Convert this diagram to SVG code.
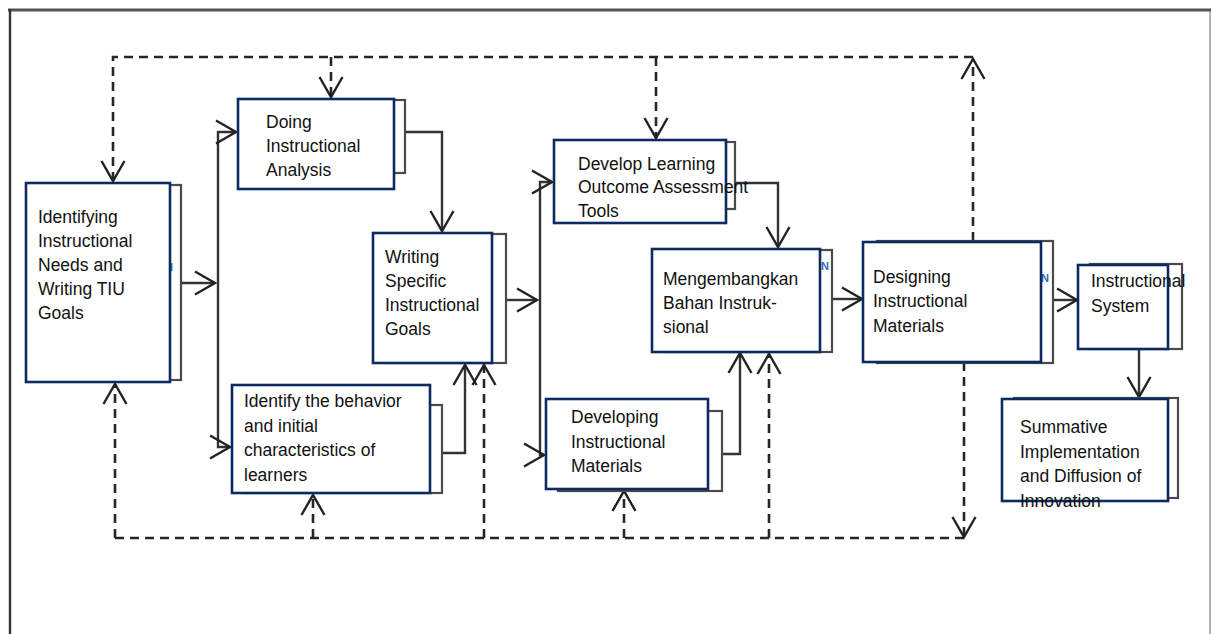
<svg xmlns="http://www.w3.org/2000/svg" width="1213" height="634" viewBox="0 0 1213 634">
<style>
.box{fill:#fff;stroke:#0d2a63;stroke-width:2.6}
.sh{fill:#fff;stroke:#4a4a4a;stroke-width:2.2}
.c{fill:none;stroke:#333;stroke-width:2.4}
.d{fill:none;stroke:#262626;stroke-width:2.6;stroke-dasharray:9 6}
.t{font-family:"Liberation Sans",Arial,sans-serif;font-size:17.5px;fill:#111}
.art{font-family:"Liberation Sans",Arial,sans-serif;font-size:11px;font-weight:bold;fill:#2f6db5}
</style>
<defs>
<marker id="ah" markerUnits="userSpaceOnUse" markerWidth="26" markerHeight="28" viewBox="-23 -14 26 28" refX="0" refY="0" orient="auto">
<path d="M-20,-11.5 L0,0 L-20,11.5" fill="none" stroke="#222" stroke-width="2.4"/>
</marker>
</defs>
<rect width="1213" height="634" fill="#fff"/>
<g id="frame">
<line x1="1210" y1="10" x2="1210" y2="634" stroke="#a0a0a0" stroke-width="1.6"/>
<line x1="8" y1="10" x2="1211" y2="10" stroke="#555" stroke-width="3"/>
<line x1="10" y1="9" x2="10" y2="634" stroke="#333" stroke-width="2.4"/>
</g>
<g id="connectors">
<path class="c" d="M181,283 H215" marker-end="url(#ah)"/>
<path class="c" d="M218,283 V132 H236" marker-end="url(#ah)"/>
<path class="c" d="M218,283 V447 H230" marker-end="url(#ah)"/>
<path class="c" d="M405,132 H442 V231" marker-end="url(#ah)"/>
<path class="c" d="M506,300 H537" marker-end="url(#ah)"/>
<path class="c" d="M540,300 V182 H552" marker-end="url(#ah)"/>
<path class="c" d="M540,300 V455 H544" marker-end="url(#ah)"/>
<path class="c" d="M735,183 H778 V247" marker-end="url(#ah)"/>
<path class="c" d="M442,453 H465 V365" marker-end="url(#ah)"/>
<path class="c" d="M722,454 H740 V353" marker-end="url(#ah)"/>
<path class="c" d="M832,299 H862" marker-end="url(#ah)"/>
<path class="c" d="M1053,300 H1077" marker-end="url(#ah)"/>
<path class="c" d="M1139,349 V397" marker-end="url(#ah)"/>
<path class="d" d="M973,57 H113 V181" marker-end="url(#ah)"/>
<path class="d" d="M331,57 V97" marker-end="url(#ah)"/>
<path class="d" d="M656,57 V138" marker-end="url(#ah)"/>
<path class="d" d="M973,241 V59" marker-end="url(#ah)"/>
<path class="d" d="M115,538 V384" marker-end="url(#ah)"/>
<path class="d" d="M115,538 H964"/>
<path class="d" d="M964,362 V537" marker-end="url(#ah)"/>
<path class="d" d="M313,538 V495" marker-end="url(#ah)"/>
<path class="d" d="M624,538 V491" marker-end="url(#ah)"/>
<path class="d" d="M484,538 V365" marker-end="url(#ah)"/>
<path class="d" d="M769,538 V354" marker-end="url(#ah)"/>
</g>
<g id="n1">
<rect class="sh" x="40" y="185" width="141" height="195"/>
<text class="art" x="170" y="271">l</text>
<rect class="box" x="26" y="183" width="144" height="199"/>
<text class="t" x="38" y="223">Identifying</text>
<text class="t" x="38" y="247">Instructional</text>
<text class="t" x="38" y="271">Needs and</text>
<text class="t" x="38" y="295">Writing TIU</text>
<text class="t" x="38" y="319">Goals</text>
</g>
<g id="n2">
<rect class="sh" x="250" y="100" width="155" height="73"/>
<rect class="box" x="238" y="99" width="156" height="90"/>
<text class="t" x="266" y="128">Doing</text>
<text class="t" x="266" y="152">Instructional</text>
<text class="t" x="266" y="176">Analysis</text>
</g>
<g id="n3">
<rect class="sh" x="385" y="234" width="121" height="129"/>
<rect class="box" x="373" y="233" width="119" height="130"/>
<text class="t" x="385" y="263">Writing</text>
<text class="t" x="385" y="287">Specific</text>
<text class="t" x="385" y="311">Instructional</text>
<text class="t" x="385" y="335">Goals</text>
</g>
<g id="n4">
<rect class="sh" x="245" y="405" width="197" height="88"/>
<rect class="box" x="232" y="385" width="198" height="108"/>
<text class="t" x="244" y="407">Identify the behavior</text>
<text class="t" x="244" y="432">and initial</text>
<text class="t" x="244" y="456">characteristics of</text>
<text class="t" x="244" y="481">learners</text>
</g>
<g id="n5">
<rect class="sh" x="566" y="142" width="169" height="67"/>
<rect class="box" x="554" y="140" width="172" height="83"/>
<text class="t" x="578" y="170">Develop Learning</text>
<text class="t" x="578" y="193">Outcome Assessment</text>
<text class="t" x="578" y="217">Tools</text>
</g>
<g id="n6">
<rect class="sh" x="664" y="250" width="168" height="102"/>
<text class="art" x="821" y="270">N</text>
<rect class="box" x="652" y="249" width="168" height="103"/>
<text class="t" x="663" y="285">Mengembangkan</text>
<text class="t" x="663" y="309">Bahan Instruk-</text>
<text class="t" x="663" y="333">sional</text>
</g>
<g id="n7">
<rect class="sh" x="558" y="411" width="164" height="80"/>
<rect class="box" x="546" y="399" width="162" height="90"/>
<text class="t" x="571" y="423">Developing</text>
<text class="t" x="571" y="448">Instructional</text>
<text class="t" x="571" y="472">Materials</text>
</g>
<g id="n8">
<rect class="sh" x="877" y="241" width="176" height="122"/>
<text class="art" x="1041" y="282">N</text>
<rect class="box" x="863" y="242" width="178" height="120"/>
<text class="t" x="873" y="283">Designing</text>
<text class="t" x="873" y="307">Instructional</text>
<text class="t" x="873" y="332">Materials</text>
</g>
<g id="n9">
<rect class="sh" x="1090" y="264" width="92" height="85"/>
<rect class="box" x="1078" y="265" width="90" height="84"/>
<text class="t" x="1091" y="287">Instructional</text>
<text class="t" x="1091" y="312">System</text>
</g>
<g id="n10">
<rect class="sh" x="1014" y="398" width="164" height="100"/>
<rect class="box" x="1002" y="399" width="166" height="102"/>
<text class="t" x="1020" y="433">Summative</text>
<text class="t" x="1020" y="458">Implementation</text>
<text class="t" x="1020" y="482">and Diffusion of</text>
<text class="t" x="1020" y="507">Innovation</text>
</g>
</svg>
